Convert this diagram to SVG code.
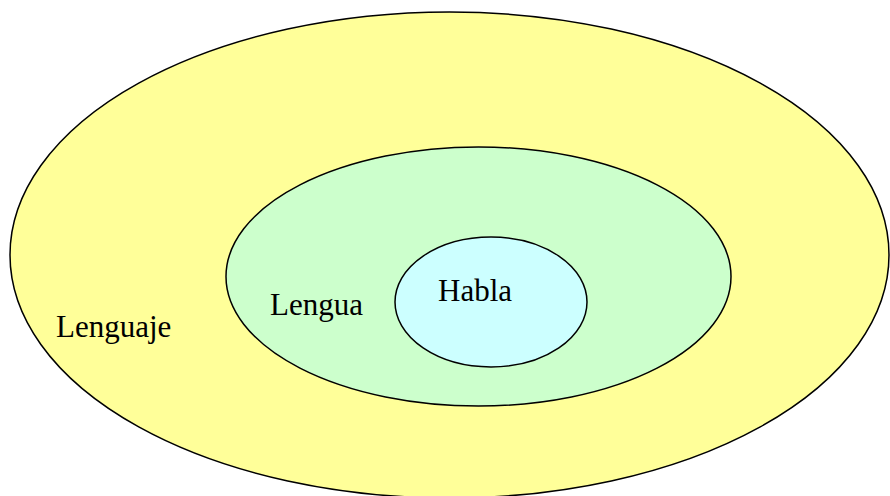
<svg xmlns="http://www.w3.org/2000/svg" width="890" height="496" viewBox="0 0 890 496">
<style>
ellipse{stroke:#000;stroke-width:1.5}
text{font-family:'Liberation Serif','Times New Roman','DejaVu Serif',serif;font-size:31px;fill:#000}
</style>
<rect width="890" height="496" fill="#fff"/>
<g id="lenguaje">
<ellipse cx="449.5" cy="255" rx="439.5" ry="243" fill="#FFFF99"/>
<text x="56" y="337">Lenguaje</text>
</g>
<g id="lengua">
<ellipse cx="478.5" cy="276.5" rx="252.5" ry="129.5" fill="#CCFFCC"/>
<text x="270" y="315">Lengua</text>
</g>
<g id="habla">
<ellipse cx="491" cy="302" rx="96" ry="65" fill="#CCFFFF"/>
<text x="438" y="301">Habla</text>
</g>
<g id="connectors"/>
</svg>
